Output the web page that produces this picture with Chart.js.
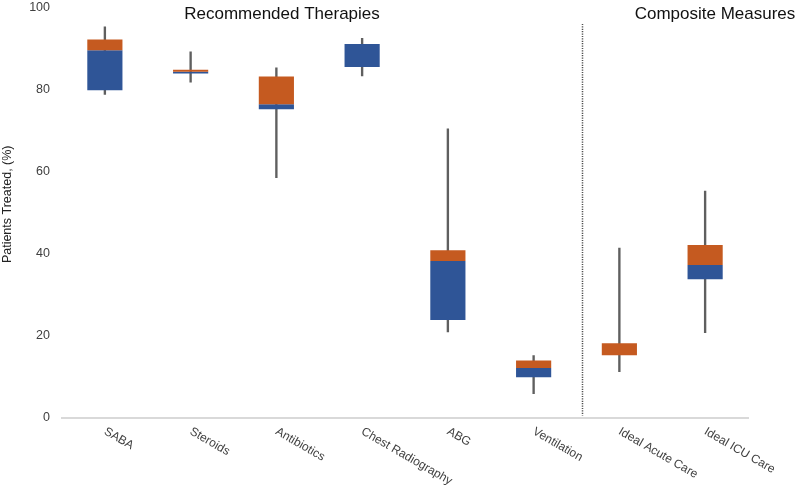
<!DOCTYPE html>
<html>
<head>
<meta charset="utf-8">
<script src="https://cdn.jsdelivr.net/npm/chart.js@4"></script>
<style>
  html, body { margin: 0; padding: 0; background: #fff; }
  #wrap { width: 800px; height: 487px; }
</style>
</head>
<body>
<div id="wrap"><canvas id="boxChart"></canvas></div>
<script>
'use strict'

// values (percent of patients treated)
const categories = ['SABA', 'Steroids', 'Antibiotics', 'Chest Radiography', 'ABG', 'Ventilation', 'Ideal Acute Care', 'Ideal ICU Care'];
const whiskerMin = [78.8, 81.8, 58.5, 83.3, 20.9, 5.8, 11.2, 20.7];
const q1         = [79.8, 83.9, 75.2, 85.5, 23.8, 9.8, 15.2, 33.7];
const median     = [89.6, 84.3, 76.4, 91.1, 38.2, 12.1, 15.2, 37.2];
const q3         = [92.2, 84.8, 83.2, 91.1, 40.8, 13.9, 18.1, 42.1];
const whiskerMax = [95.3, 89.2, 85.3, 92.5, 70.4, 15.1, 41.3, 55.2];
const yTicks = [0, 20, 40, 60, 80, 100];

const FONT = "'Liberation Sans', Arial, sans-serif";
const BLUE = 'rgb(47, 85, 151)';
const ORANGE = 'rgb(197, 90, 32)';

// floating bars [low, high]
const lowerBox = categories.map((c, i) => [q1[i], median[i]]);
const upperBox = categories.map((c, i) => [median[i], q3[i]]);
const whiskers = categories.map((c, i) => [whiskerMin[i], whiskerMax[i]]);

// rotated x labels, axis title, section titles and the dotted divider
const extrasPlugin = {
    id: 'extras',
    afterDraw(chart) {
        const ctx = chart.ctx;
        const x = chart.scales.x;
        const y = chart.scales.y;
        ctx.save();

        // category labels, slanted down to the right
        ctx.fillStyle = '#404040';
        ctx.font = '12px ' + FONT;
        ctx.textAlign = 'left';
        ctx.textBaseline = 'top';
        categories.forEach((c, i) => {
            ctx.save();
            ctx.translate(x.getPixelForValue(i) + 3, chart.chartArea.bottom + 8);
            ctx.rotate(30 * Math.PI / 180);
            ctx.fillText(c, 0, 0);
            ctx.restore();
        });

        // y axis title
        ctx.save();
        ctx.fillStyle = '#222';
        ctx.font = '12.5px ' + FONT;
        ctx.textAlign = 'center';
        ctx.textBaseline = 'middle';
        ctx.translate(7.5, y.getPixelForValue(52));
        ctx.rotate(-Math.PI / 2);
        ctx.fillText('Patients Treated, (%)', 0, 0);
        ctx.restore();

        // divider between the two groups
        const dx = Math.round(x.getPixelForValue(5.56)) + 0.5;
        ctx.strokeStyle = '#505050';
        ctx.lineWidth = 1.5;
        ctx.setLineDash([1.2, 1.2]);
        ctx.beginPath();
        ctx.moveTo(dx, y.getPixelForValue(96));
        ctx.lineTo(dx, chart.chartArea.bottom - 2);
        ctx.stroke();
        ctx.setLineDash([]);

        // group titles
        ctx.fillStyle = '#111';
        ctx.font = '17px ' + FONT;
        ctx.textAlign = 'center';
        ctx.textBaseline = 'alphabetic';
        ctx.fillText('Recommended Therapies', 282, 18.5);
        ctx.fillText('Composite Measures', 715, 18.5);

        ctx.restore();
    }
};

const ctx = document.getElementById('boxChart').getContext('2d');
const boxChart = new Chart(ctx, {
    type: 'bar',
    data: {
        labels: categories,
        datasets: [
            {
                label: 'Q3',
                data: upperBox,
                backgroundColor: ORANGE,
                borderWidth: 0,
                barPercentage: 0.41,
                categoryPercentage: 1,
                order: 1
            },
            {
                label: 'Q1',
                data: lowerBox,
                backgroundColor: BLUE,
                borderWidth: 0,
                barPercentage: 0.41,
                categoryPercentage: 1,
                order: 1
            },
            {
                label: 'Range',
                data: whiskers,
                backgroundColor: '#5f5f5f',
                borderWidth: 0,
                barThickness: 1.7,
                order: 3
            }
        ]
    },
    options: {
        responsive: true,
        maintainAspectRatio: false,
        animation: false,
        devicePixelRatio: 1,
        grouped: false,
        layout: { padding: { top: 0, bottom: 69.5, left: 0, right: 52 } },
        plugins: {
            legend: { display: false },
            tooltip: { enabled: false }
        },
        scales: {
            x: {
                grid: { display: false, drawTicks: false },
                border: { display: true, color: '#d9d9d9', width: 2 },
                ticks: { display: false }
            },
            y: {
                min: 0,
                max: 100,
                afterFit(scale) {
                    scale.width = 62;
                    scale.paddingTop = 7.5;
                },
                afterBuildTicks(scale) { scale.ticks = yTicks.map(v => ({ value: v })); },
                grid: { display: false, drawTicks: false },
                border: { display: false },
                ticks: {
                    padding: 12,
                    color: '#404040',
                    font: { family: FONT, size: 12.5 }
                },
                title: { display: false }
            }
        }
    },
    plugins: [extrasPlugin]
});
</script>
</body>
</html>
